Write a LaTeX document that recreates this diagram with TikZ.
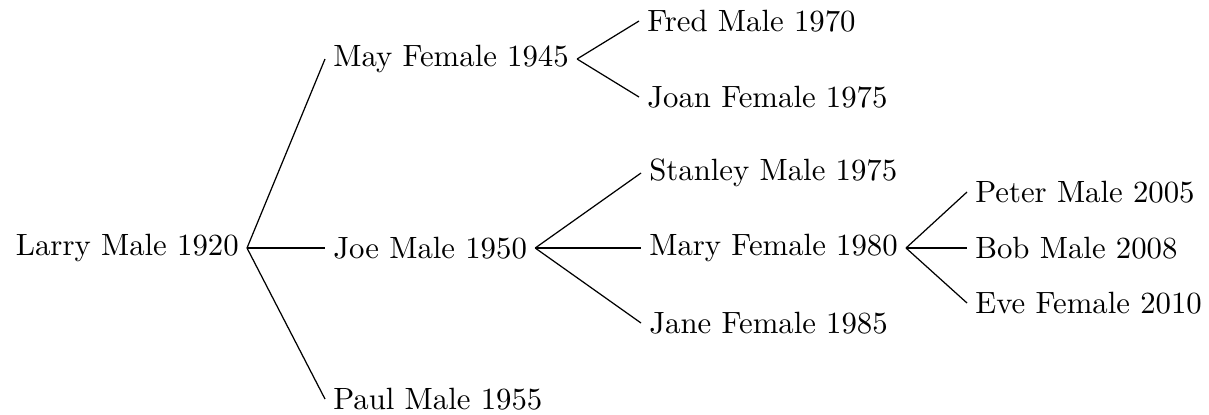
\documentclass[tikz,border=0pt]{standalone}
\begin{document}
\begin{tikzpicture}[x=0.325pt,y=-0.325pt,
  person/.style={inner xsep=2.5pt, inner ysep=1pt},
  link/.style={draw=black, line width=0.4pt}]
\useasboundingbox (0,0) rectangle (1209,414);
% generation 1
\node[person,anchor=east] (larry) at (247,248) {Larry Male 1920};
% generation 2
\node[person,anchor=west] (may)  at (325,59)  {May Female 1945};
\node[person,anchor=west] (joe)  at (325,248) {Joe Male 1950};
\node[person,anchor=west] (paul) at (325,399) {Paul Male 1955};
% generation 3
\node[person,anchor=west] (fred)    at (639,21)  {Fred Male 1970};
\node[person,anchor=west] (joan)    at (639,97)  {Joan Female 1975};
\node[person,anchor=west] (stanley) at (641,173) {Stanley Male 1975};
\node[person,anchor=west] (mary)    at (641,248) {Mary Female 1980};
\node[person,anchor=west] (jane)    at (641,323) {Jane Female 1985};
% generation 4
\node[person,anchor=west] (peter) at (967,192) {Peter Male 2005};
\node[person,anchor=west] (bob)   at (967,248) {Bob Male 2008};
\node[person,anchor=west] (eve)   at (967,303) {Eve Female 2010};
% connectors
\draw[link] (larry.east) -- (may.west);
\draw[link] (larry.east) -- (joe.west);
\draw[link] (larry.east) -- (paul.west);
\draw[link] (may.east) -- (fred.west);
\draw[link] (may.east) -- (joan.west);
\draw[link] (joe.east) -- (stanley.west);
\draw[link] (joe.east) -- (mary.west);
\draw[link] (joe.east) -- (jane.west);
\draw[link] (mary.east) -- (peter.west);
\draw[link] (mary.east) -- (bob.west);
\draw[link] (mary.east) -- (eve.west);
\end{tikzpicture}
\end{document}
